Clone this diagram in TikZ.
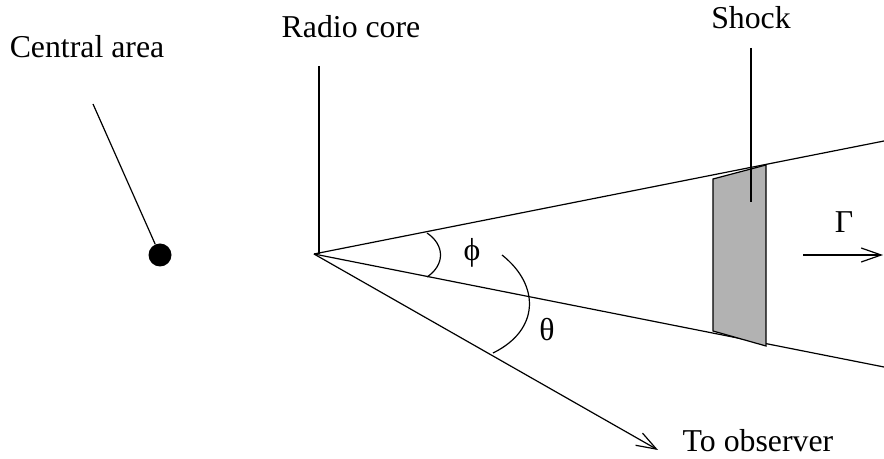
\documentclass[tikz,border=0pt]{standalone}
\usepackage{fontspec}
\setmainfont{Liberation Serif}
\usetikzlibrary{arrows.meta}
\begin{document}
\begin{tikzpicture}[x=0.5pt,y=-0.5pt,
  ln/.style={line width=0.6pt},
  lbl/.style={inner sep=0pt,font=\fontsize{15.9}{19}\selectfont},
  barb/.style={-{Straight Barb[length=10pt,width=7pt,line width=0.6pt]}}]
\useasboundingbox (0,0) rectangle (884,459);
% labels
\node[lbl] (central) at (87,47) {Central area};
\node[lbl] (radio) at (351,27) {Radio core};
\node[lbl] (shock) at (751,18) {Shock};
\node[lbl] (obs) at (758,441) {To observer};
\node[lbl] (gam) at (844,222) {Γ};
\node[lbl] (phi) at (472,253) {ϕ};
\node[lbl] (theta) at (547,330) {θ};
% central object
\node[circle,fill=black,inner sep=0pt,minimum size=11.5pt] (dot) at (160,255) {};
\coordinate (cl) at (93,104);
\draw[ln] (cl) -- (dot);
% radio core
\coordinate (apex) at (314,254);
\coordinate (rtop) at (319,66);
\coordinate (rbot) at (319,254);
\draw[ln] (rtop) -- (rbot);
% jet cone
\coordinate (jup) at (884,141);
\coordinate (jlo) at (884,367);
\draw[ln] (apex) -- (jup);
\draw[ln] (apex) -- (jlo);
% observer direction
\coordinate (oend) at (658,450);
\draw[ln,barb] (apex) -- (oend);
% shock
\coordinate (s1) at (713,179);
\coordinate (s2) at (766,165);
\coordinate (s3) at (766,346);
\coordinate (s4) at (713,331);
\draw[ln,fill=black!30] (s1) -- (s2) -- (s3) -- (s4) -- cycle;
\coordinate (stop) at (751,48);
\coordinate (sbot) at (751,202);
\draw[ln] (stop) -- (sbot);
% gamma arrow
\coordinate (g1) at (803,255);
\coordinate (g2) at (883,255);
\draw[ln,barb] (g1) -- (g2);
% phi arc
\coordinate (p1) at (427,233);
\coordinate (p2) at (427,277);
\draw[ln] (p1) .. controls (445,245) and (445,265) .. (p2);
% theta arc
\coordinate (t1) at (502,255);
\coordinate (t2) at (493,353);
\draw[ln] (t1) .. controls (540,285) and (540,330) .. (t2);
\end{tikzpicture}
\end{document}
